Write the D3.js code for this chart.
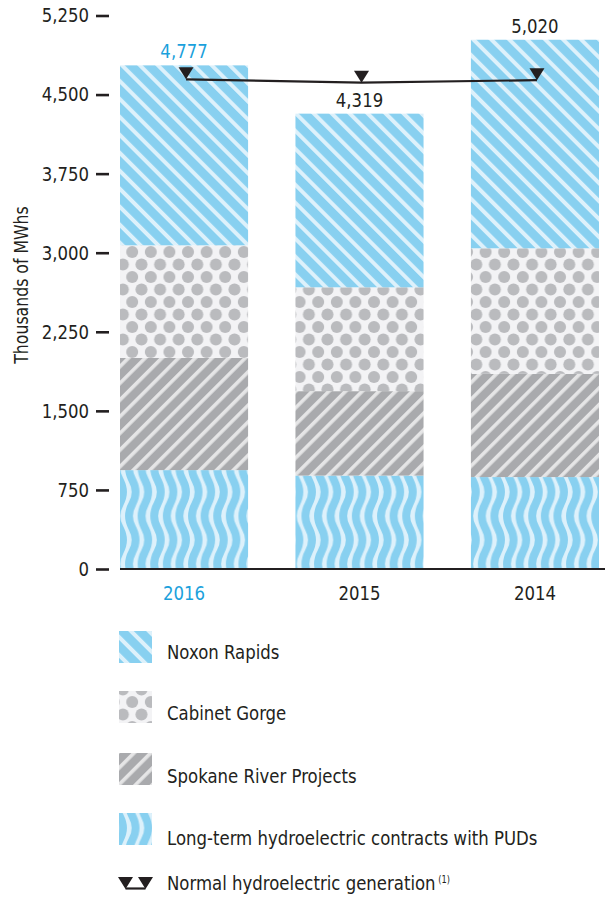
<!DOCTYPE html>
<html>
<head>
<meta charset="utf-8">
<script src="https://cdn.jsdelivr.net/npm/d3@7"></script>
<style>
  body{margin:0;background:#fff;}
  svg text{font-family:"Liberation Sans Narrow","DejaVu Sans Condensed","Roboto",sans-serif;fill:#231f20;}
</style>
</head>
<body>
<svg id="chart" width="605" height="909"></svg>
<script>
const years=["2016","2015","2014"];
const series=["Noxon Rapids","Cabinet Gorge","Spokane River Projects","Long-term hydroelectric contracts with PUDs"];
const puds=[938,886,872];
const spokane=[1064,801,979];
const cabinet=[1068,985,1191];
const noxon=[1707,1647,1978];
const totals=[4777,4319,5020];
const normalGen=[4645,4613,4637];
const yTicks=[0,750,1500,2250,3000,3750,4500,5250];

const blue="#88d0f0", lightBlue="#ddf1fb", gray="#a9aaad", lightGray="#e5e5e6";
const dotBg="#f3f3f5", dot="#babbbe", accent="#1ba1dc", ink="#231f20";
const sx=0.92; // narrow the condensed face a little more

const svg=d3.select("#chart");
const defs=svg.append("defs");

// diagonal stripes
function stripes(id,bg,fg,angle,period,w){
  const p=defs.append("pattern").attr("id",id).attr("patternUnits","userSpaceOnUse")
    .attr("width",period).attr("height",period).attr("patternTransform",`rotate(${angle})`);
  p.append("rect").attr("width",period).attr("height",period).attr("fill",bg);
  p.append("rect").attr("width",w).attr("height",period).attr("fill",fg);
}
stripes("pNoxon",blue,lightBlue,-45,12.7,4);
stripes("pSpokane",gray,lightGray,45,11.8,3.6);

// dots
const pd=defs.append("pattern").attr("id","pCabinet").attr("patternUnits","userSpaceOnUse")
  .attr("width",18.6).attr("height",25).attr("x",2).attr("y",2);
pd.append("rect").attr("width",18.6).attr("height",25).attr("fill",dotBg);
[[0,0],[18.6,0],[0,25],[18.6,25],[9.3,12.5]].forEach(c=>{
  pd.append("circle").attr("cx",c[0]).attr("cy",c[1]).attr("r",6).attr("fill",dot);
});

// waves (drawn past the tile edges so the clip leaves no seams)
const wh=48;
const pw=defs.append("pattern").attr("id","pPud").attr("patternUnits","userSpaceOnUse")
  .attr("width",12.6).attr("height",wh);
pw.append("rect").attr("width",12.6).attr("height",wh).attr("fill",lightBlue);
[-12.6,0,12.6].forEach(o=>{
  const c=6.3+o, a=3.3;
  let d=`M${c},${-wh}`;
  for(let k=-1;k<2;k++){
    const t=k*wh;
    d+=` Q${c+2*a},${t+wh/4} ${c},${t+wh/2} Q${c-2*a},${t+3*wh/4} ${c},${t+wh}`;
  }
  pw.append("path").attr("d",d).attr("fill","none").attr("stroke",blue).attr("stroke-width",7.8);
});

const fills=["url(#pNoxon)","url(#pCabinet)","url(#pSpokane)","url(#pPud)"];

const x=d3.scaleBand().domain(years).range([120,599]).paddingInner(0.27).paddingOuter(0);
const y=d3.scaleLinear().domain([0,5250]).range([569,15.5]);

// stacked data
const rows=years.map((yr,i)=>({year:yr,pud:puds[i],spokane:spokane[i],cabinet:cabinet[i],noxon:noxon[i]}));
const keys=["pud","spokane","cabinet","noxon"];
const keyFill={pud:fills[3],spokane:fills[2],cabinet:fills[1],noxon:fills[0]};
const stack=d3.stack().keys(keys)(rows);

svg.append("g").selectAll("g").data(stack).enter().append("g")
  .attr("fill",d=>keyFill[d.key])
  .selectAll("rect").data(d=>d).enter().append("rect")
  .attr("x",d=>x(d.data.year))
  .attr("y",d=>y(d[1]))
  .attr("width",x.bandwidth())
  .attr("height",d=>y(d[0])-y(d[1]));

// baseline
svg.append("line").attr("x1",120).attr("x2",605).attr("y1",y(0)).attr("y2",y(0))
  .attr("stroke",ink).attr("stroke-width",2.2);

// y axis
const yAxis=svg.append("g").attr("transform","translate(109,0)")
  .call(d3.axisLeft(y).tickValues(yTicks).tickSize(13).tickPadding(7).tickFormat(d3.format(",")));
yAxis.select(".domain").remove();
yAxis.selectAll(".tick line").attr("stroke",ink).attr("stroke-width",2.6);
yAxis.selectAll(".tick text").attr("font-size",20).attr("fill",ink)
  .attr("transform",`translate(-20,0) scale(${sx},1)`).attr("x",0).attr("dx",0)
  .attr("text-anchor","end");

svg.append("text").attr("transform",`translate(28,285) rotate(-90) scale(${sx},1)`)
  .attr("text-anchor","middle").attr("font-size",19).text("Thousands of MWhs");

// x axis labels
const xAxis=svg.append("g").attr("transform",`translate(0,${y(0)})`)
  .call(d3.axisBottom(x).tickSize(0).tickPadding(17));
xAxis.select(".domain").remove();
xAxis.selectAll(".tick text").attr("font-size",20).attr("transform",`scale(${sx},1)`)
  .style("fill",(d,i)=>i===0?accent:ink);

// total labels
svg.append("g").selectAll("text").data(years).enter().append("text")
  .attr("transform",(d,i)=>`translate(${x(d)+x.bandwidth()/2},${y(totals[i])-7}) scale(${sx},1)`)
  .attr("text-anchor","middle").attr("font-size",20)
  .style("fill",(d,i)=>i===0?accent:ink)
  .text((d,i)=>d3.format(",")(totals[i]));

// normal generation line
const nx=d=>x(d)+x.bandwidth()/2+2;
svg.append("path")
  .attr("d",d3.line().x(d=>nx(d)).y((d,i)=>y(normalGen[i]))(years))
  .attr("fill","none").attr("stroke",ink).attr("stroke-width",2.2);
svg.append("g").selectAll("path").data(years).enter().append("path")
  .attr("transform",(d,i)=>`translate(${nx(d)},${y(normalGen[i])})`)
  .attr("d","M-7.5,-12 L7.5,-12 L0,0 Z").attr("fill",ink);

// legend
const legTop=[631,691,753,813];
const legBase=[659,720,783,845];
const leg=svg.append("g");
series.forEach((s,i)=>{
  leg.append("rect").attr("x",119).attr("y",legTop[i]).attr("width",33).attr("height",32).attr("fill",fills[i]);
  leg.append("text").attr("transform",`translate(167,${legBase[i]}) scale(${sx},1)`).attr("font-size",20).text(s);
});
leg.append("path").attr("d","M118,877 L133,877 L125.5,889 Z M138,877 L153,877 L145.5,889 Z").attr("fill",ink);
leg.append("line").attr("x1",125.5).attr("x2",145.5).attr("y1",888.5).attr("y2",888.5).attr("stroke",ink).attr("stroke-width",2.2);
const nt=leg.append("text").attr("transform",`translate(167,890) scale(${sx},1)`).attr("font-size",20);
nt.append("tspan").text("Normal hydroelectric generation");
nt.append("tspan").attr("dx",3).attr("dy",-7).attr("font-size",10).text("(1)");
</script>
</body>
</html>
